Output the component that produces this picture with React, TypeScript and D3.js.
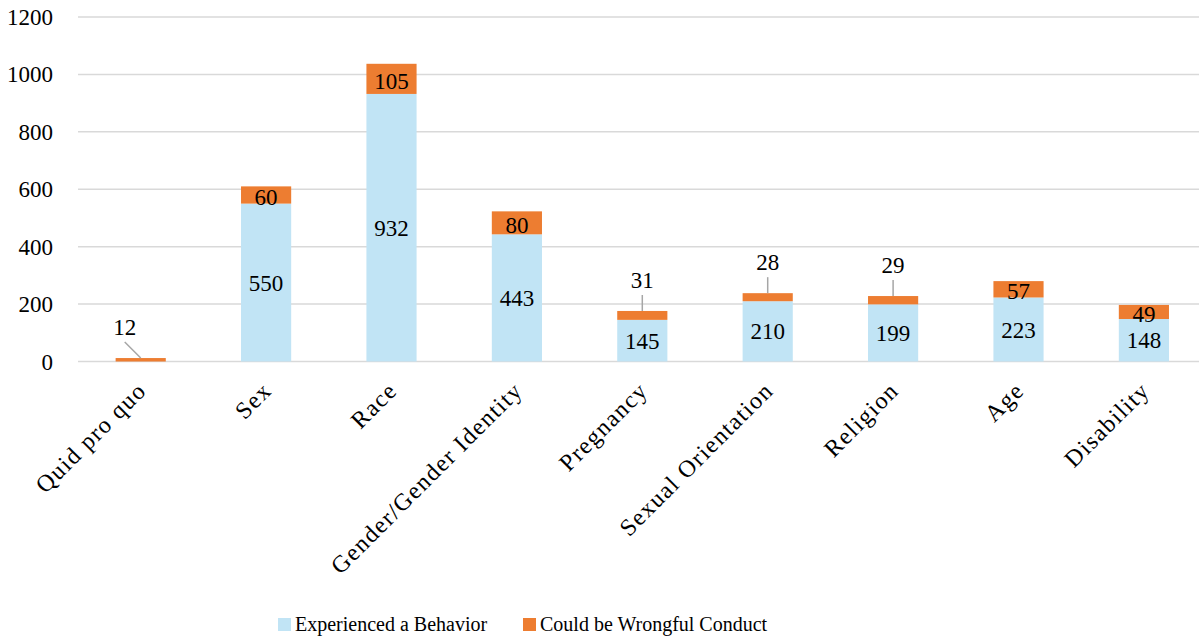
import * as React from "react";
import * as d3 from "d3";
import { useEffect, useRef } from "react";

const categories = [
  "Quid pro quo",
  "Sex",
  "Race",
  "Gender/Gender Identity",
  "Pregnancy",
  "Sexual Orientation",
  "Religion",
  "Age",
  "Disability",
];
const experienced = [0, 550, 932, 443, 145, 210, 199, 223, 148];
const wrongful = [12, 60, 105, 80, 31, 28, 29, 57, 49];
const yTicks = [0, 200, 400, 600, 800, 1000, 1200];
const seriesNames = ["Experienced a Behavior", "Could be Wrongful Conduct"];

const BLUE = "#c1e4f5";
const ORANGE = "#ed7d31";
const FONT = '"Palatino Linotype", "Book Antiqua", Palatino, "Liberation Serif", serif';

function drawChart(svgRef: React.RefObject<SVGSVGElement>) {
  const svg = d3.select(svgRef.current);
  const width = 1199;
  const height = 641;
  svg.selectAll("*").remove();
  svg.attr("width", width).attr("height", height);

  const x = d3
    .scaleBand()
    .domain(categories)
    .range([78, 1206.6])
    .paddingInner(0.6)
    .paddingOuter(0.3);

  const y = d3.scaleLinear().domain([0, 1200]).range([361.5, 17]);

  // gridlines
  svg
    .append("g")
    .selectAll("line")
    .data(yTicks)
    .enter()
    .append("line")
    .attr("x1", 78)
    .attr("x2", width)
    .attr("y1", (d) => y(d))
    .attr("y2", (d) => y(d))
    .attr("stroke", "#d9d9d9")
    .attr("stroke-width", 1.5);

  // y tick labels
  svg
    .append("g")
    .selectAll("text")
    .data(yTicks)
    .enter()
    .append("text")
    .attr("x", 53)
    .attr("y", (d) => y(d))
    .attr("dy", "0.35em")
    .attr("text-anchor", "end")
    .attr("font-family", FONT)
    .attr("font-size", 23)
    .attr("fill", "#000")
    .text((d) => d);

  const rows = categories.map((c, i) => ({
    cat: c,
    exp: experienced[i],
    wr: wrongful[i],
  }));

  // experienced bars
  svg
    .append("g")
    .selectAll("rect")
    .data(rows)
    .enter()
    .append("rect")
    .attr("x", (d) => x(d.cat)!)
    .attr("width", x.bandwidth())
    .attr("y", (d) => y(d.exp))
    .attr("height", (d) => y(0) - y(d.exp))
    .attr("fill", BLUE);

  // wrongful bars stacked on top
  svg
    .append("g")
    .selectAll("rect")
    .data(rows)
    .enter()
    .append("rect")
    .attr("x", (d) => x(d.cat)!)
    .attr("width", x.bandwidth())
    .attr("y", (d) => y(d.exp + d.wr))
    .attr("height", (d) => y(d.exp) - y(d.exp + d.wr))
    .attr("fill", ORANGE);

  const cx = (c: string) => x(c)! + x.bandwidth() / 2;

  // blue labels
  svg
    .append("g")
    .selectAll("text")
    .data(rows.filter((d) => d.exp > 0))
    .enter()
    .append("text")
    .attr("x", (d) => cx(d.cat))
    .attr("y", (d) => y(d.exp / 2))
    .attr("dy", "0.35em")
    .attr("text-anchor", "middle")
    .attr("font-family", FONT)
    .attr("font-size", 23)
    .text((d) => d.exp);

  // orange labels: inside when segment is tall enough, otherwise callout above
  const inside = rows.filter((d) => d.wr >= 40);
  const outside = rows.filter((d) => d.wr < 40);

  svg
    .append("g")
    .selectAll("text")
    .data(inside)
    .enter()
    .append("text")
    .attr("x", (d) => cx(d.cat))
    .attr("y", (d) => y(d.exp + d.wr / 2) + 2)
    .attr("dy", "0.35em")
    .attr("text-anchor", "middle")
    .attr("font-family", FONT)
    .attr("font-size", 23)
    .text((d) => d.wr);

  // first category callout sits to the left
  const shift = (d: { cat: string }) => (d.cat === categories[0] ? -16 : 0);

  svg
    .append("g")
    .selectAll("line")
    .data(outside)
    .enter()
    .append("line")
    .attr("x1", (d) => cx(d.cat) + shift(d))
    .attr("y1", (d) => y(d.exp + d.wr) - 16)
    .attr("x2", (d) => cx(d.cat))
    .attr("y2", (d) => y(d.exp + d.wr))
    .attr("stroke", "#a6a6a6")
    .attr("stroke-width", 1.5);

  svg
    .append("g")
    .selectAll("text")
    .data(outside)
    .enter()
    .append("text")
    .attr("x", (d) => cx(d.cat) + shift(d))
    .attr("y", (d) => y(d.exp + d.wr) - 31)
    .attr("dy", "0.35em")
    .attr("text-anchor", "middle")
    .attr("font-family", FONT)
    .attr("font-size", 23)
    .text((d) => d.wr);

  // category labels, rotated
  svg
    .append("g")
    .selectAll("text")
    .data(categories)
    .enter()
    .append("text")
    .attr("transform", (d) => `translate(${cx(d) + 7}, 392) rotate(-45)`)
    .attr("text-anchor", "end")
    .attr("font-family", FONT)
    .attr("font-size", 24)
    .attr("letter-spacing", 1.4)
    .text((d) => d);

  // legend
  const legendX = [278, 523];
  const colors = [BLUE, ORANGE];
  const legend = svg
    .append("g")
    .selectAll("g")
    .data(seriesNames)
    .enter()
    .append("g")
    .attr("transform", (d, i) => `translate(${legendX[i]}, 618)`);
  legend
    .append("rect")
    .attr("width", 13)
    .attr("height", 13)
    .attr("fill", (d, i) => colors[i]);
  legend
    .append("text")
    .attr("x", 17)
    .attr("y", 13)
    .attr("font-family", FONT)
    .attr("font-size", 20)
    .text((d) => d);
}

export default function App() {
  const svg = useRef<SVGSVGElement>(null);
  useEffect(() => {
    drawChart(svg);
  }, []);
  return (
    <div style={{ position: "absolute", left: 0, top: 0, background: "#fff" }}>
      <svg ref={svg} style={{ display: "block" }} />
    </div>
  );
}
